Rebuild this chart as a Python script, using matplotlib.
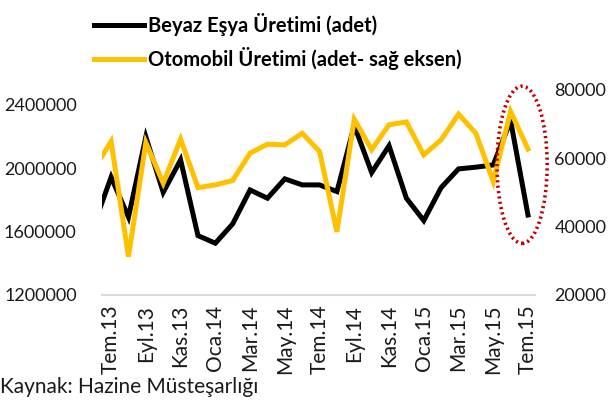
import matplotlib
matplotlib.use("Agg")
import matplotlib.pyplot as plt
from matplotlib.patches import Ellipse

plt.rcParams['font.family'] = ['Lato', 'DejaVu Sans']

# Haz.13 .. Tem.15 (ilk nokta eksenin solunda kırpılıyor)
aylar = ['Haz.13', 'Tem.13', 'Ağu.13', 'Eyl.13', 'Eki.13', 'Kas.13', 'Ara.13',
         'Oca.14', 'Şub.14', 'Mar.14', 'Nis.14', 'May.14', 'Haz.14', 'Tem.14',
         'Ağu.14', 'Eyl.14', 'Eki.14', 'Kas.14', 'Ara.14', 'Oca.15', 'Şub.15',
         'Mar.15', 'Nis.15', 'May.15', 'Haz.15', 'Tem.15']

beyaz_esya = [1638000, 1944000, 1692000, 2198000, 1848000, 2053000, 1575000,
              1527000, 1649000, 1863000, 1811000, 1933000, 1895000, 1895000,
              1853000, 2270000, 1973000, 2142000, 1811000, 1670000, 1878000,
              1996000, 2007000, 2021000, 2300000, 1705000]

otomobil = [56700, 64900, 31200, 64600, 52700, 65600, 51400,
            52200, 53500, 61500, 64100, 63900, 67300, 62000,
            38500, 71400, 62500, 69800, 70600, 61000, 65400,
            72900, 67300, 53200, 73700, 62700]

x = list(range(-1, len(aylar) - 1))

fig = plt.figure(figsize=(6.11, 4.03), dpi=100)
ax = fig.add_axes([0.1665, 0.268, 0.709, 0.509])
ax2 = ax.twinx()

l1, = ax.plot(x, beyaz_esya, color='black', lw=3.6, solid_joinstyle='miter',
              label='Beyaz Eşya Üretimi (adet)')
l2, = ax2.plot(x, otomobil, color='#FFC000', lw=3.6, solid_joinstyle='miter',
               label='Otomobil Üretimi (adet- sağ eksen)')

ax.set_xlim(-0.54, 24.4)
ax.set_ylim(1200000, 2495000)
ax2.set_ylim(20000, 80000)

ax.set_yticks([1200000, 1600000, 2000000, 2400000])
ax.set_yticklabels(['1200000', '1600000', '2000000', '2400000'])
ax2.set_yticks([20000, 40000, 60000, 80000])
ax2.set_yticklabels(['20000', '40000', '60000', '80000'])

ax.set_xticks(x[1::2])
ax.set_xticklabels(aylar[1::2], rotation=90)

for a in (ax, ax2):
    for s in a.spines.values():
        s.set_visible(False)
    a.tick_params(length=0, labelsize=13, colors='#1a1a1a')
ax.spines['bottom'].set_visible(True)
ax.spines['bottom'].set_color('#D9D9D9')
ax.spines['bottom'].set_linewidth(1.5)
ax.tick_params(axis='x', pad=7, labelsize=15)
ax.tick_params(axis='y', pad=18)
ax2.tick_params(axis='y', pad=14)

# vurgulanan son iki ay
ax2.add_patch(Ellipse((23.66, 58070), 2.89, 45970, fill=False,
                      edgecolor='#C00000', lw=2.6, ls=(0, (0.6, 0.9)),
                      clip_on=False, zorder=5))

fig.legend(handles=[l1, l2], loc='upper left', bbox_to_anchor=(0.124, 1.012),
           frameon=False, handlelength=2.5, handletextpad=0.2,
           labelspacing=0.55, prop={'weight': 'bold', 'size': 14.5})

fig.text(0.0, 0.025, 'Kaynak: Hazine Müsteşarlığı', fontsize=15,
         color='#1a1a1a')

fig.savefig('out.png', dpi=100)
